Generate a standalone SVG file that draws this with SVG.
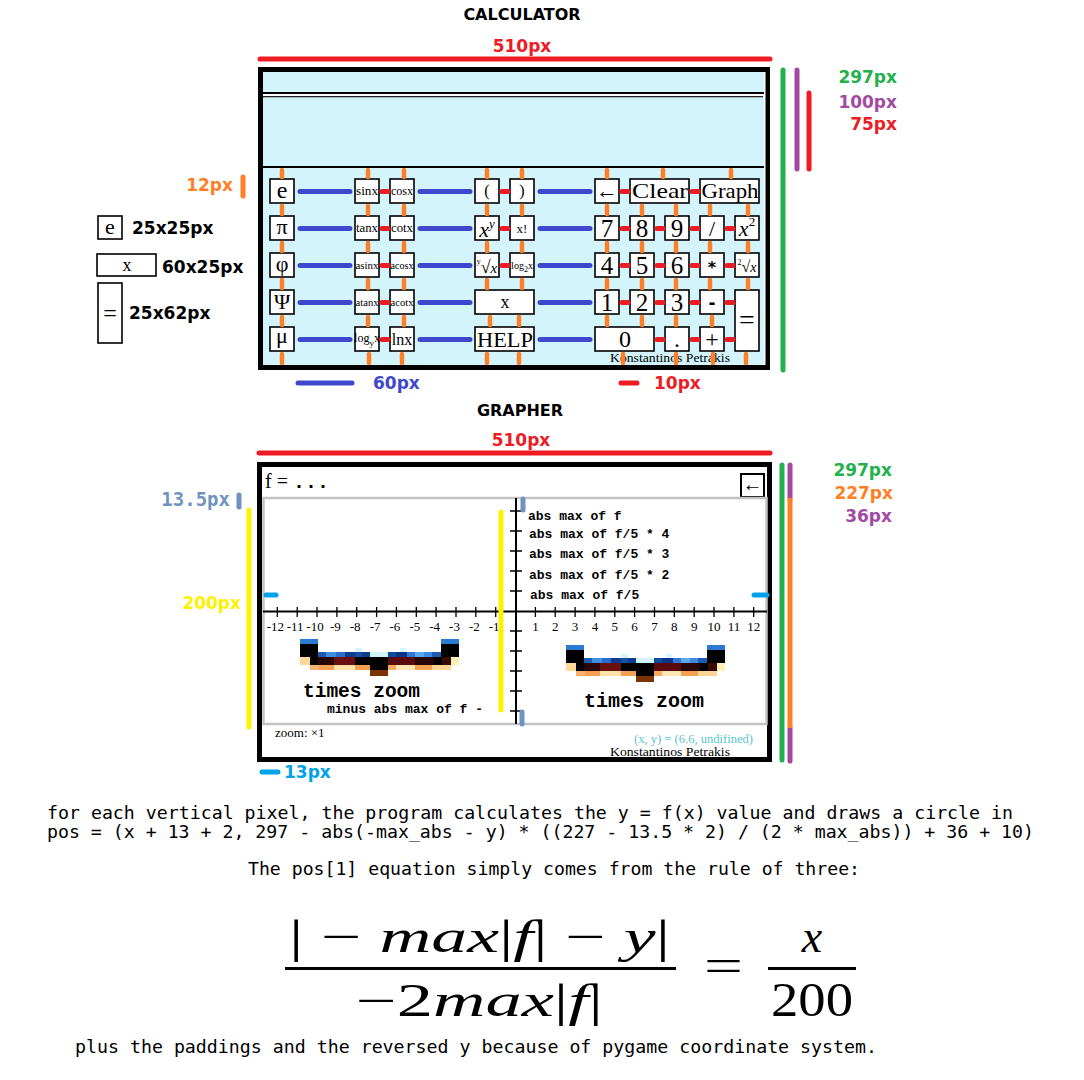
<svg xmlns="http://www.w3.org/2000/svg" width="1084" height="1080" viewBox="0 0 1084 1080">
<defs>
<style>
.lbl{font-family:"DejaVu Sans",sans-serif;font-weight:bold;font-size:17px}
.ttl{font-family:"DejaVu Sans",sans-serif;font-weight:bold;font-size:16px;fill:#000}
.btn{fill:#fff;stroke:#000;stroke-width:1.6}
.bt{font-family:"Liberation Serif",serif;text-anchor:middle;fill:#000}
.ser{font-family:"Liberation Serif",serif}
.mono{font-family:"Liberation Mono",monospace;font-weight:bold;fill:#000}
.code{font-family:"DejaVu Sans Mono",monospace;font-size:18.25px;fill:#000}
.meas{fill:none;stroke-width:5;stroke-linecap:round}
.tk{font-family:"Liberation Serif",serif;font-size:13px;text-anchor:middle;fill:#000}
.abs{font-family:"Liberation Mono",monospace;font-weight:bold;font-size:13px;fill:#000}
.fx{font-family:"Liberation Serif",serif;fill:#000}
</style>
<g id="band">
<rect x="300" y="639" width="18" height="5" fill="#2b7bd3"/>
<rect x="441" y="639" width="18" height="5" fill="#2b7bd3"/>
<rect x="300" y="644" width="18" height="13" fill="#000"/>
<rect x="441" y="644" width="18" height="13" fill="#000"/>
<rect x="355" y="648" width="7" height="4" fill="#d6f6fb"/>
<rect x="400" y="648" width="6" height="4" fill="#d6f6fb"/>
<rect x="318" y="652" width="8" height="5" fill="#1e5cb3"/>
<rect x="326" y="652" width="10" height="5" fill="#3e8fe0"/>
<rect x="336" y="652" width="9" height="5" fill="#2a6ccc"/>
<rect x="345" y="652" width="10" height="5" fill="#0c3d8f"/>
<rect x="355" y="652" width="7" height="5" fill="#1a4fa8"/>
<rect x="362" y="652" width="8" height="5" fill="#0c3d8f"/>
<rect x="370" y="652" width="18" height="5" fill="#d0f4fa"/>
<rect x="388" y="652" width="8" height="5" fill="#0d4aa0"/>
<rect x="396" y="652" width="11" height="5" fill="#0a3585"/>
<rect x="407" y="652" width="8" height="5" fill="#2f78d6"/>
<rect x="415" y="652" width="9" height="5" fill="#5ea5ea"/>
<rect x="424" y="652" width="8" height="5" fill="#3d8be0"/>
<rect x="432" y="652" width="9" height="5" fill="#1e5cb3"/>
<rect x="300" y="657" width="10" height="8" fill="#ffd79a"/>
<rect x="310" y="657" width="8" height="8" fill="#000"/>
<rect x="318" y="657" width="16" height="8" fill="#2a0808"/>
<rect x="334" y="657" width="21" height="8" fill="#6a1010"/>
<rect x="355" y="657" width="33" height="8" fill="#000"/>
<rect x="388" y="657" width="27" height="8" fill="#5a0a0a"/>
<rect x="415" y="657" width="19" height="8" fill="#2a0505"/>
<rect x="434" y="657" width="8" height="8" fill="#000"/>
<rect x="442" y="657" width="9" height="8" fill="#3a0a05"/>
<rect x="451" y="657" width="8" height="8" fill="#fff0b8"/>
<rect x="310" y="665" width="9" height="5" fill="#f8b070"/>
<rect x="319" y="665" width="15" height="5" fill="#f4a055"/>
<rect x="334" y="665" width="21" height="5" fill="#ffe3a8"/>
<rect x="355" y="665" width="15" height="5" fill="#f3a050"/>
<rect x="370" y="665" width="18" height="5" fill="#000"/>
<rect x="388" y="665" width="8" height="5" fill="#f8a860"/>
<rect x="396" y="665" width="19" height="5" fill="#ffe8b5"/>
<rect x="415" y="665" width="17" height="5" fill="#f3a050"/>
<rect x="432" y="665" width="19" height="5" fill="#fcd595"/>
<rect x="370" y="670" width="18" height="6" fill="#7b3300"/>
</g>
</defs>
<rect width="1084" height="1080" fill="#fff"/>

<g id="calc-title">
<text class="ttl" x="522" y="20" text-anchor="middle">CALCULATOR</text>
<text class="lbl" x="522" y="52" text-anchor="middle" fill="#ed1c24">510px</text>
</g>

<g id="calculator">
<rect x="260.5" y="69.5" width="507" height="298" fill="#d4f4fb" stroke="#000" stroke-width="5"/>
<rect x="263" y="92" width="502" height="2" fill="#000"/>
<rect x="263" y="94" width="502" height="2" fill="#fff"/>
<rect x="263" y="96" width="500" height="1.3" fill="#222"/>
<rect x="263" y="166" width="502" height="2" fill="#000"/>
<rect x="764" y="72" width="1.5" height="293" fill="#fff"/>
<text class="ser" x="610" y="362" font-size="12" fill="#000" textLength="120" lengthAdjust="spacingAndGlyphs">Konstantinos Petrakis</text>
</g>

<g id="btn-e"><rect class="btn" x="270" y="179" width="24" height="24"/><text class="bt" x="282" y="198" font-size="24">e</text></g>
<g id="btn-pi"><rect class="btn" x="270" y="216" width="24" height="24"/><text class="bt" x="282" y="234" font-size="22">π</text></g>
<g id="btn-phi"><rect class="btn" x="270" y="253" width="24" height="24"/><text class="bt" x="282" y="271" font-size="22">φ</text></g>
<g id="btn-psi"><rect class="btn" x="270" y="290" width="24" height="24"/><text class="bt" x="282" y="309" font-size="22">Ψ</text></g>
<g id="btn-mu"><rect class="btn" x="270" y="327" width="24" height="24"/><text class="bt" x="282" y="343" font-size="22">μ</text></g>

<g id="btn-sin"><rect class="btn" x="355" y="179" width="24" height="24"/><text class="bt" x="367" y="195" font-size="12" textLength="22" lengthAdjust="spacingAndGlyphs">sinx</text></g>
<g id="btn-cos"><rect class="btn" x="390" y="179" width="24" height="24"/><text class="bt" x="402" y="195" font-size="12" textLength="22" lengthAdjust="spacingAndGlyphs">cosx</text></g>
<g id="btn-tan"><rect class="btn" x="355" y="216" width="24" height="24"/><text class="bt" x="367" y="232" font-size="12" textLength="22" lengthAdjust="spacingAndGlyphs">tanx</text></g>
<g id="btn-cot"><rect class="btn" x="390" y="216" width="24" height="24"/><text class="bt" x="402" y="232" font-size="12" textLength="22" lengthAdjust="spacingAndGlyphs">cotx</text></g>
<g id="btn-asin"><rect class="btn" x="355" y="253" width="24" height="24"/><text class="bt" x="367" y="269" font-size="11" textLength="23" lengthAdjust="spacingAndGlyphs">asinx</text></g>
<g id="btn-acos"><rect class="btn" x="390" y="253" width="24" height="24"/><text class="bt" x="402" y="269" font-size="11" textLength="23" lengthAdjust="spacingAndGlyphs">acosx</text></g>
<g id="btn-atan"><rect class="btn" x="355" y="290" width="24" height="24"/><text class="bt" x="367" y="306" font-size="11" textLength="23" lengthAdjust="spacingAndGlyphs">atanx</text></g>
<g id="btn-acot"><rect class="btn" x="390" y="290" width="24" height="24"/><text class="bt" x="402" y="306" font-size="11" textLength="23" lengthAdjust="spacingAndGlyphs">acotx</text></g>
<g id="btn-logy"><rect class="btn" x="355" y="327" width="24" height="24"/><text class="bt" x="367" y="342" font-size="12">log<tspan font-size="9" dy="4">y</tspan><tspan dy="-4">x</tspan></text></g>
<g id="btn-ln"><rect class="btn" x="390" y="327" width="24" height="24"/><text class="bt" x="402" y="345" font-size="16">lnx</text></g>

<g id="btn-lpar"><rect class="btn" x="475" y="179" width="24" height="24"/><text class="bt" x="487" y="196" font-size="16">(</text></g>
<g id="btn-rpar"><rect class="btn" x="510" y="179" width="24" height="24"/><text class="bt" x="522" y="196" font-size="16">)</text></g>
<g id="btn-pow"><rect class="btn" x="475" y="216" width="24" height="24"/><text class="bt" x="487" y="237" font-size="22"><tspan font-style="italic">x</tspan><tspan font-size="13" dy="-9" font-style="italic">y</tspan></text></g>
<g id="btn-fact"><rect class="btn" x="510" y="216" width="24" height="24"/><text class="bt" x="522" y="233" font-size="13">x!</text></g>
<g id="btn-root"><rect class="btn" x="475" y="253" width="24" height="24"/><text class="bt" x="487" y="273" font-size="18"><tspan font-size="8" dy="-9">y</tspan><tspan dy="9">√</tspan><tspan font-style="italic" font-size="15">x</tspan></text></g>
<g id="btn-log2"><rect class="btn" x="510" y="253" width="24" height="24"/><text class="bt" x="522" y="269" font-size="10">log<tspan dy="3" font-size="8">2</tspan><tspan dy="-3">x</tspan></text></g>
<g id="btn-x"><rect class="btn" x="475" y="290" width="59" height="24"/><text class="bt" x="505" y="308" font-size="18">x</text></g>
<g id="btn-help"><rect class="btn" x="475" y="327" width="59" height="24"/><text class="bt" x="505" y="347" font-size="22" textLength="56" lengthAdjust="spacingAndGlyphs">HELP</text></g>

<g id="btn-back"><rect class="btn" x="595" y="179" width="24" height="24"/><text class="bt" x="607" y="198" font-size="22">←</text></g>
<g id="btn-clear"><rect class="btn" x="630" y="179" width="59" height="24"/><text class="bt" x="660" y="198" font-size="22" textLength="56" lengthAdjust="spacingAndGlyphs">Clear</text></g>
<g id="btn-graph"><rect class="btn" x="700" y="179" width="59" height="24"/><text class="bt" x="730" y="198" font-size="22" textLength="57" lengthAdjust="spacingAndGlyphs">Graph</text></g>

<g id="btn-7"><rect class="btn" x="595" y="216" width="24" height="24"/><text class="bt" x="607" y="237" font-size="25">7</text></g>
<g id="btn-8"><rect class="btn" x="630" y="216" width="24" height="24"/><text class="bt" x="642" y="237" font-size="25">8</text></g>
<g id="btn-9"><rect class="btn" x="665" y="216" width="24" height="24"/><text class="bt" x="677" y="237" font-size="25">9</text></g>
<g id="btn-div"><rect class="btn" x="700" y="216" width="24" height="24"/><text class="bt" x="712" y="236" font-size="22">/</text></g>
<g id="btn-sq"><rect class="btn" x="735" y="216" width="24" height="24"/><text class="bt" x="747" y="236" font-size="22"><tspan font-style="italic">x</tspan><tspan font-size="13" dy="-10">2</tspan></text></g>

<g id="btn-4"><rect class="btn" x="595" y="253" width="24" height="24"/><text class="bt" x="607" y="274" font-size="25">4</text></g>
<g id="btn-5"><rect class="btn" x="630" y="253" width="24" height="24"/><text class="bt" x="642" y="274" font-size="25">5</text></g>
<g id="btn-6"><rect class="btn" x="665" y="253" width="24" height="24"/><text class="bt" x="677" y="274" font-size="25">6</text></g>
<g id="btn-mul"><rect class="btn" x="700" y="253" width="24" height="24"/><text x="712" y="273" font-family="DejaVu Sans,sans-serif" font-weight="bold" font-size="16" text-anchor="middle">*</text></g>
<g id="btn-sqrt"><rect class="btn" x="735" y="253" width="24" height="24"/><text class="bt" x="747" y="272" font-size="16"><tspan font-size="8" dy="-7">2</tspan><tspan dy="7">√</tspan><tspan font-style="italic" font-size="14">x</tspan></text></g>

<g id="btn-1"><rect class="btn" x="595" y="290" width="24" height="24"/><text class="bt" x="607" y="311" font-size="25">1</text></g>
<g id="btn-2"><rect class="btn" x="630" y="290" width="24" height="24"/><text class="bt" x="642" y="311" font-size="25">2</text></g>
<g id="btn-3"><rect class="btn" x="665" y="290" width="24" height="24"/><text class="bt" x="677" y="311" font-size="25">3</text></g>
<g id="btn-sub"><rect class="btn" x="700" y="290" width="24" height="24"/><text x="712" y="309" font-family="DejaVu Sans,sans-serif" font-weight="bold" font-size="17" text-anchor="middle">-</text></g>
<g id="btn-eq"><rect class="btn" x="735" y="290" width="24" height="61"/><text class="bt" x="747" y="329" font-size="28">=</text></g>

<g id="btn-0"><rect class="btn" x="595" y="327" width="59" height="24"/><text class="bt" x="625" y="347" font-size="24">0</text></g>
<g id="btn-dot"><rect class="btn" x="665" y="327" width="24" height="24"/><text class="bt" x="677" y="347" font-size="24">.</text></g>
<g id="btn-add"><rect class="btn" x="700" y="327" width="24" height="24"/><text class="bt" x="712" y="347" font-size="24">+</text></g>

<g id="connectors">
<path fill="none" stroke="#3f48cc" stroke-width="5" stroke-linecap="round" d="M300 191.5H350M420 191.5H470M540 191.5H590M300 228.5H350M420 228.5H470M540 228.5H590M300 265.5H350M420 265.5H470M540 265.5H590M300 302.5H350M420 302.5H470M540 302.5H590M300 339.5H350M420 339.5H470M540 339.5H590"/>
<path fill="none" stroke="#ed1c24" stroke-width="5" stroke-linecap="round" d="M382 191.5H388M382 228.5H388M382 265.5H388M382 302.5H388M382 339.5H388M502 191.5H508M502 228.5H508M502 265.5H508M622 191.5H628M692 191.5H698M622 228.5H628M657 228.5H663M692 228.5H698M727 228.5H733M622 265.5H628M657 265.5H663M692 265.5H698M727 265.5H733M622 302.5H628M657 302.5H663M692 302.5H698M727 302.5H733M657 339.5H663M692 339.5H698M727 339.5H733"/>
<path fill="none" stroke="#ff7f27" stroke-width="4.5" stroke-linecap="round" d="M282 170V177M368 170V177M404 170V177M487 170V177M522 170V177M607 170V177M663 170V177M731 170V177M282 206V214M368 206V214M404 206V214M487 206V214M522 206V214M607 206V214M642 206V214M676 206V214M710 206V214M748 206V214M282 243V251M368 243V251M404 243V251M487 243V251M522 243V251M607 243V251M642 243V251M676 243V251M710 243V251M748 243V251M282 280V288M368 280V288M404 280V288M487 280V288M522 280V288M607 280V288M642 280V288M676 280V288M710 280V288M748 280V288M282 317V325M368 317V325M404 317V325M490 317V325M519 317V325M607 317V325M642 317V325M676 317V325M712 317V325M282 354V363M369 354V363M402 354V363M487 354V363M519 354V363M623 354V363M676 354V363M713 354V363M746 354V363"/>
</g>

<g id="calc-legend">
<text class="lbl" x="233" y="191" text-anchor="end" fill="#ff7f27">12px</text>
<line class="meas" stroke="#ff7f27" x1="243" y1="177" x2="243" y2="196"/>
<rect class="btn" x="98" y="216" width="24" height="23"/><text class="bt" x="110" y="234" font-size="22">e</text>
<text class="lbl" x="132" y="234">25x25px</text>
<rect class="btn" x="97" y="254" width="59" height="22"/><text class="bt" x="127" y="271" font-size="18">x</text>
<text class="lbl" x="162" y="273">60x25px</text>
<rect class="btn" x="98" y="283" width="24" height="60"/><text class="bt" x="110" y="321" font-size="24">=</text>
<text class="lbl" x="129" y="319">25x62px</text>
</g>

<g id="calc-measures">
<line class="meas" stroke="#ed1c24" x1="260" y1="59" x2="770" y2="59"/>
<line class="meas" stroke="#22b14c" x1="783" y1="70" x2="783" y2="370"/>
<line class="meas" stroke="#a349a4" x1="797" y1="70" x2="797" y2="169"/>
<line class="meas" stroke="#ed1c24" x1="809" y1="93" x2="809" y2="169"/>
<text class="lbl" x="897" y="83" text-anchor="end" fill="#22b14c">297px</text>
<text class="lbl" x="897" y="108" text-anchor="end" fill="#a349a4">100px</text>
<text class="lbl" x="897" y="130" text-anchor="end" fill="#ed1c24">75px</text>
<line class="meas" stroke="#3f48cc" x1="298" y1="383" x2="352" y2="383"/>
<text class="lbl" x="373" y="389" fill="#3f48cc">60px</text>
<line class="meas" stroke="#ed1c24" x1="621" y1="383" x2="637" y2="383"/>
<text class="lbl" x="654" y="389" fill="#ed1c24">10px</text>
</g>

<g id="graph-title">
<text class="ttl" x="520" y="416" text-anchor="middle">GRAPHER</text>
<text class="lbl" x="521" y="446" text-anchor="middle" fill="#ed1c24">510px</text>
</g>

<g id="grapher">
<rect x="259.5" y="464.5" width="510" height="295" fill="#fff" stroke="#000" stroke-width="5"/>
<text class="ser" x="265" y="488" font-size="20" fill="#000">f = <tspan font-family="Liberation Mono,monospace" font-weight="bold" font-size="20">...</tspan></text>
<rect x="741" y="474" width="23" height="23" fill="#fff" stroke="#000" stroke-width="2"/>
<text class="bt" x="752.5" y="491" font-size="20">←</text>
<rect x="263.5" y="498" width="503" height="226" fill="#fff" stroke="#c3c3c3" stroke-width="2.5"/>
<path fill="none" stroke="#000" stroke-width="2" d="M263 611.5H767M516 498V724"/>
<path fill="none" stroke="#000" stroke-width="1.3" d="M277.3 607V617M297.2 607V617M317 607V617M336.9 607V617M356.7 607V617M376.6 607V617M396.4 607V617M416.3 607V617M436.1 607V617M456 607V617M475.8 607V617M495.7 607V617M535.4 607V617M555.2 607V617M575.1 607V617M594.9 607V617M614.8 607V617M634.6 607V617M654.5 607V617M674.3 607V617M694.2 607V617M714 607V617M733.9 607V617M753.7 607V617M510 511H522M510 531H522M510 551H522M510 571H522M510 591H522M510 631H522M510 651H522M510 671H522M510 691H522M510 711H522"/>
<text class="tk" x="275.3" y="631">-12</text><text class="tk" x="295.2" y="631">-11</text><text class="tk" x="315" y="631">-10</text><text class="tk" x="335.4" y="631">-9</text><text class="tk" x="355.2" y="631">-8</text><text class="tk" x="375.1" y="631">-7</text><text class="tk" x="394.9" y="631">-6</text><text class="tk" x="414.8" y="631">-5</text><text class="tk" x="434.6" y="631">-4</text><text class="tk" x="454.5" y="631">-3</text><text class="tk" x="474.3" y="631">-2</text><text class="tk" x="494.2" y="631">-1</text>
<text class="tk" x="535.4" y="631">1</text><text class="tk" x="555.2" y="631">2</text><text class="tk" x="575.1" y="631">3</text><text class="tk" x="594.9" y="631">4</text><text class="tk" x="614.8" y="631">5</text><text class="tk" x="634.6" y="631">6</text><text class="tk" x="654.5" y="631">7</text><text class="tk" x="674.3" y="631">8</text><text class="tk" x="694.2" y="631">9</text><text class="tk" x="714" y="631">10</text><text class="tk" x="733.9" y="631">11</text><text class="tk" x="753.7" y="631">12</text>
<text class="abs" x="528" y="520">abs max of f</text>
<text class="abs" x="529" y="538">abs max of f/5 * 4</text>
<text class="abs" x="529" y="558">abs max of f/5 * 3</text>
<text class="abs" x="529" y="579">abs max of f/5 * 2</text>
<text class="abs" x="530" y="599">abs max of f/5</text>
<use href="#band"/>
<use href="#band" transform="translate(266,6)"/>
<text class="mono" x="303" y="697" font-size="19.5">times zoom</text>
<text class="mono" x="327" y="713" font-size="13">minus abs max of f -</text>
<text class="mono" x="584" y="707" font-size="20">times zoom</text>
<text class="ser" x="275" y="737" font-size="13" fill="#000">zoom: ×1</text>
<text class="ser" x="634" y="743" font-size="13" style="fill:#5bc4d1" textLength="119" lengthAdjust="spacingAndGlyphs">(x, y) = (6.6, undifined)</text>
<text class="ser" x="610" y="756" font-size="12" fill="#000" textLength="120" lengthAdjust="spacingAndGlyphs">Konstantinos Petrakis</text>
</g>

<g id="graph-measures">
<line class="meas" stroke="#ed1c24" x1="259" y1="453" x2="770" y2="453"/>
<line class="meas" stroke="#fff200" x1="501" y1="512" x2="501" y2="710"/>
<line class="meas" stroke="#7092be" stroke-width="4.5" x1="523" y1="499" x2="523" y2="510"/>
<line class="meas" stroke="#7092be" stroke-width="4.5" x1="522" y1="712" x2="522" y2="724"/>
<line class="meas" stroke="#00a2e8" x1="266" y1="595" x2="276" y2="595"/>
<line class="meas" stroke="#00a2e8" x1="754" y1="595" x2="767" y2="595"/>
<text x="230" y="506" text-anchor="end" font-family="DejaVu Sans Mono,monospace" font-weight="bold" font-size="19" fill="#7092be">13.5px</text>
<line class="meas" stroke="#7092be" stroke-width="4.5" x1="239" y1="495" x2="239" y2="507"/>
<line class="meas" stroke="#fff200" x1="249" y1="510" x2="249" y2="727"/>
<text class="lbl" x="241" y="609" text-anchor="end" fill="#fff200">200px</text>
<line class="meas" stroke="#22b14c" x1="782" y1="465" x2="782" y2="760"/>
<line class="meas" stroke="#a349a4" x1="790" y1="465" x2="790" y2="498"/>
<line class="meas" stroke="#a349a4" x1="790" y1="728" x2="790" y2="761"/>
<line stroke="#ff7f27" stroke-width="5" x1="790" y1="498" x2="790" y2="728"/>
<text class="lbl" x="892" y="476" text-anchor="end" fill="#22b14c">297px</text>
<text class="lbl" x="893" y="499" text-anchor="end" fill="#ff7f27">227px</text>
<text class="lbl" x="892" y="522" text-anchor="end" fill="#a349a4">36px</text>
<line class="meas" stroke="#00a2e8" x1="262" y1="772" x2="278" y2="772"/>
<text class="lbl" x="284" y="778" fill="#00a2e8">13px</text>
</g>

<g id="explanation">
<text class="code" x="47" y="819" textLength="966" lengthAdjust="spacingAndGlyphs">for each vertical pixel, the program calculates the y = f(x) value and draws a circle in</text>
<text class="code" x="47" y="838" textLength="987" lengthAdjust="spacingAndGlyphs">pos = (x + 13 + 2, 297 - abs(-max_abs - y) * ((227 - 13.5 * 2) / (2 * max_abs)) + 36 + 10)</text>
<text class="code" x="248" y="875" textLength="612" lengthAdjust="spacingAndGlyphs">The pos[1] equation simply comes from the rule of three:</text>
<text class="code" x="75" y="1053" textLength="802" lengthAdjust="spacingAndGlyphs">plus the paddings and the reversed y because of pygame coordinate system.</text>
</g>

<g id="formula">
<text class="fx" x="289" y="952" font-size="46" textLength="381" lengthAdjust="spacingAndGlyphs">|<tspan> − </tspan><tspan font-style="italic">max</tspan>|<tspan font-style="italic">f</tspan>|<tspan> − </tspan><tspan font-style="italic">y</tspan>|</text>
<rect x="285" y="967" width="391" height="3" fill="#000"/>
<text class="fx" x="356" y="1016" font-size="46" textLength="247" lengthAdjust="spacingAndGlyphs">−2<tspan font-style="italic">max</tspan>|<tspan font-style="italic">f</tspan>|</text>
<text class="fx" x="704" y="981" font-size="46" textLength="39" lengthAdjust="spacingAndGlyphs">=</text>
<text class="fx" x="812" y="952" font-size="46" font-style="italic" text-anchor="middle">x</text>
<rect x="768" y="967" width="88" height="3" fill="#000"/>
<text class="fx" x="771" y="1016" font-size="48" textLength="82" lengthAdjust="spacingAndGlyphs">200</text>
</g>
</svg>
